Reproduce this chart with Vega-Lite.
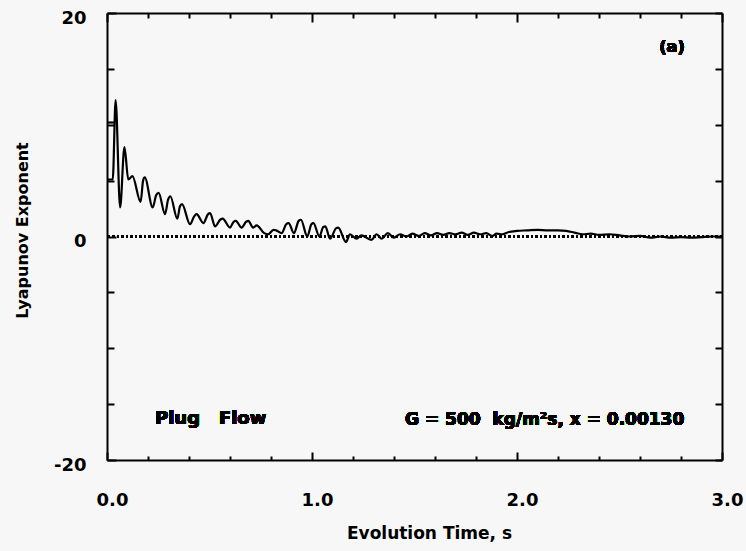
{
  "$schema": "https://vega.github.io/schema/vega-lite/v6.json",
  "width": 615,
  "height": 447,
  "autosize": {"type": "none"},
  "padding": {"left": 107, "top": 13, "right": 24, "bottom": 91},
  "background": "#f7f7f7",
  "config": {
    "view": {"stroke": null},
    "font": "DejaVu Sans",
    "axis": {"grid": false, "domainColor": "black", "domainWidth": 2, "tickColor": "black", "tickWidth": 2, "labelColor": "black", "titleColor": "black", "labelFont": "DejaVu Sans", "titleFont": "DejaVu Sans", "labelFontWeight": "bold", "titleFontWeight": "bold", "labelOverlap": false, "labelFlush": false}
  },
  "data": {
    "values": [
      {"t": 0, "v": 10.2, "seg": "a"},
      {"t": 0.034, "v": 10.2, "seg": "a"},
      {"t": 0, "v": 5.1, "seg": "b"},
      {"t": 0.028, "v": 5.1, "seg": "b"},
      {"t": 0.042, "v": 12.2, "seg": "b"},
      {"t": 0.064, "v": 2.6, "seg": "b"},
      {"t": 0.085, "v": 8.0, "seg": "b"},
      {"t": 0.104, "v": 5.1, "seg": "b"},
      {"t": 0.124, "v": 5.4, "seg": "b"},
      {"t": 0.164, "v": 3.1, "seg": "b"},
      {"t": 0.176, "v": 5.0, "seg": "b"},
      {"t": 0.184, "v": 5.3, "seg": "b"},
      {"t": 0.223, "v": 2.6, "seg": "b"},
      {"t": 0.24, "v": 3.7, "seg": "b"},
      {"t": 0.252, "v": 3.9, "seg": "b"},
      {"t": 0.283, "v": 2.0, "seg": "b"},
      {"t": 0.298, "v": 3.3, "seg": "b"},
      {"t": 0.309, "v": 3.6, "seg": "b"},
      {"t": 0.343, "v": 1.6, "seg": "b"},
      {"t": 0.356, "v": 2.7, "seg": "b"},
      {"t": 0.366, "v": 2.9, "seg": "b"},
      {"t": 0.405, "v": 1.1, "seg": "b"},
      {"t": 0.425, "v": 1.8, "seg": "b"},
      {"t": 0.437, "v": 2.0, "seg": "b"},
      {"t": 0.47, "v": 1.2, "seg": "b"},
      {"t": 0.493, "v": 2.0, "seg": "b"},
      {"t": 0.503, "v": 2.1, "seg": "b"},
      {"t": 0.527, "v": 0.9, "seg": "b"},
      {"t": 0.552, "v": 1.5, "seg": "b"},
      {"t": 0.564, "v": 1.6, "seg": "b"},
      {"t": 0.6, "v": 0.8, "seg": "b"},
      {"t": 0.617, "v": 1.3, "seg": "b"},
      {"t": 0.628, "v": 1.4, "seg": "b"},
      {"t": 0.657, "v": 0.8, "seg": "b"},
      {"t": 0.678, "v": 1.3, "seg": "b"},
      {"t": 0.689, "v": 1.4, "seg": "b"},
      {"t": 0.713, "v": 0.8, "seg": "b"},
      {"t": 0.73, "v": 1.0, "seg": "b"},
      {"t": 0.767, "v": 0.3, "seg": "b"},
      {"t": 0.787, "v": 0.2, "seg": "b"},
      {"t": 0.812, "v": 0.6, "seg": "b"},
      {"t": 0.825, "v": 0.55, "seg": "b"},
      {"t": 0.852, "v": 0.3, "seg": "b"},
      {"t": 0.874, "v": 1.1, "seg": "b"},
      {"t": 0.886, "v": 1.2, "seg": "b"},
      {"t": 0.912, "v": 0.3, "seg": "b"},
      {"t": 0.935, "v": 1.4, "seg": "b"},
      {"t": 0.946, "v": 1.5, "seg": "b"},
      {"t": 0.977, "v": 0.0, "seg": "b"},
      {"t": 0.997, "v": 1.1, "seg": "b"},
      {"t": 1.007, "v": 1.2, "seg": "b"},
      {"t": 1.036, "v": 0.0, "seg": "b"},
      {"t": 1.055, "v": 0.85, "seg": "b"},
      {"t": 1.065, "v": 0.9, "seg": "b"},
      {"t": 1.088, "v": -0.2, "seg": "b"},
      {"t": 1.118, "v": 0.75, "seg": "b"},
      {"t": 1.128, "v": 0.8, "seg": "b"},
      {"t": 1.166, "v": -0.5, "seg": "b"},
      {"t": 1.185, "v": 0.2, "seg": "b"},
      {"t": 1.218, "v": -0.2, "seg": "b"},
      {"t": 1.24, "v": 0.1, "seg": "b"},
      {"t": 1.29, "v": -0.3, "seg": "b"},
      {"t": 1.315, "v": 0.2, "seg": "b"},
      {"t": 1.34, "v": -0.2, "seg": "b"},
      {"t": 1.37, "v": 0.3, "seg": "b"},
      {"t": 1.4, "v": -0.1, "seg": "b"},
      {"t": 1.43, "v": 0.2, "seg": "b"},
      {"t": 1.46, "v": 0.0, "seg": "b"},
      {"t": 1.49, "v": 0.25, "seg": "b"},
      {"t": 1.52, "v": 0.05, "seg": "b"},
      {"t": 1.55, "v": 0.3, "seg": "b"},
      {"t": 1.58, "v": 0.1, "seg": "b"},
      {"t": 1.61, "v": 0.3, "seg": "b"},
      {"t": 1.64, "v": 0.15, "seg": "b"},
      {"t": 1.67, "v": 0.3, "seg": "b"},
      {"t": 1.7, "v": 0.2, "seg": "b"},
      {"t": 1.73, "v": 0.35, "seg": "b"},
      {"t": 1.76, "v": 0.15, "seg": "b"},
      {"t": 1.79, "v": 0.35, "seg": "b"},
      {"t": 1.82, "v": 0.2, "seg": "b"},
      {"t": 1.85, "v": 0.3, "seg": "b"},
      {"t": 1.88, "v": 0.05, "seg": "b"},
      {"t": 1.9, "v": 0.25, "seg": "b"},
      {"t": 1.93, "v": 0.2, "seg": "b"},
      {"t": 1.96, "v": 0.4, "seg": "b"},
      {"t": 2.0, "v": 0.5, "seg": "b"},
      {"t": 2.05, "v": 0.55, "seg": "b"},
      {"t": 2.1, "v": 0.6, "seg": "b"},
      {"t": 2.15, "v": 0.55, "seg": "b"},
      {"t": 2.2, "v": 0.55, "seg": "b"},
      {"t": 2.24, "v": 0.5, "seg": "b"},
      {"t": 2.28, "v": 0.35, "seg": "b"},
      {"t": 2.32, "v": 0.2, "seg": "b"},
      {"t": 2.36, "v": 0.25, "seg": "b"},
      {"t": 2.4, "v": 0.15, "seg": "b"},
      {"t": 2.45, "v": 0.2, "seg": "b"},
      {"t": 2.5, "v": 0.1, "seg": "b"},
      {"t": 2.55, "v": 0.0, "seg": "b"},
      {"t": 2.6, "v": 0.05, "seg": "b"},
      {"t": 2.65, "v": -0.1, "seg": "b"},
      {"t": 2.7, "v": 0.0, "seg": "b"},
      {"t": 2.75, "v": -0.1, "seg": "b"},
      {"t": 2.8, "v": -0.05, "seg": "b"},
      {"t": 2.85, "v": -0.1, "seg": "b"},
      {"t": 2.9, "v": -0.05, "seg": "b"},
      {"t": 2.95, "v": 0.0, "seg": "b"},
      {"t": 3.0, "v": 0.0, "seg": "b"}
    ]
  },
  "resolve": {"axis": {"x": "independent", "y": "independent"}},
  "layer": [
    {
      "mark": {"type": "rule", "strokeDash": [2, 2.5], "strokeWidth": 1.6, "color": "black"},
      "encoding": {
        "y": {"datum": 0, "type": "quantitative", "scale": {"domain": [-20, 20], "nice": false}, "axis": null}
      }
    },
    {
      "mark": {"type": "line", "color": "black", "strokeWidth": 2.2, "strokeJoin": "round", "interpolate": "monotone"},
      "encoding": {
        "x": {
          "field": "t", "type": "quantitative",
          "scale": {"domain": [0, 3], "nice": false, "zero": false},
          "axis": {
            "orient": "bottom",
            "values": [0, 0.2, 0.4, 0.6, 0.8, 1, 1.2, 1.4, 1.6, 1.8, 2, 2.2, 2.4, 2.6, 2.8, 3],
            "labelExpr": "datum.value % 1 === 0 ? format(datum.value, '.1f') : ''",
            "tickSize": {"condition": {"test": "datum.value % 1 === 0", "value": -8}, "value": -4},
            "labelFontSize": 18,
            "labelPadding": 39,
            "labelOffset": 5,
            "title": "Evolution Time, s",
            "titleFontSize": 17,
            "titleX": 322,
            "titleY": 78,
            "titleBaseline": "alphabetic",
            "titleAnchor": "middle"
          }
        },
        "y": {
          "field": "v", "type": "quantitative",
          "scale": {"domain": [-20, 20], "nice": false},
          "axis": {
            "orient": "left",
            "values": [-20, -15, -10, -5, 0, 5, 10, 15, 20],
            "labelExpr": "datum.value % 20 === 0 ? '' + datum.value : ''",
            "tickSize": {"condition": {"test": "datum.value % 20 === 0", "value": -9}, "value": -7},
            "labelFontSize": 18,
            "labelPadding": 30,
            "labelOffset": 5,
            "title": "Lyapunov Exponent",
            "titleFontSize": 16,
            "titleX": -85,
            "titleY": 217,
            "titleBaseline": "middle",
            "titleAnchor": "middle"
          }
        },
        "detail": {"field": "seg"}
      }
    },
    {
      "mark": {"type": "text", "fontSize": 16, "fontWeight": "bold", "font": "DejaVu Sans", "align": "center", "baseline": "middle", "color": "black"},
      "encoding": {
        "text": {"value": "(a)"},
        "x": {
          "datum": 2.756, "type": "quantitative",
          "axis": {
            "orient": "top",
            "values": [0, 0.2, 0.4, 0.6, 0.8, 1, 1.2, 1.4, 1.6, 1.8, 2, 2.2, 2.4, 2.6, 2.8, 3],
            "labels": false,
            "tickSize": {"condition": {"test": "datum.value % 1 === 0", "value": -9}, "value": -5},
            "title": null
          }
        },
        "y": {
          "datum": 17.0, "type": "quantitative",
          "axis": {
            "orient": "right",
            "values": [-20, -15, -10, -5, 0, 5, 10, 15, 20],
            "labels": false,
            "tickSize": -7,
            "title": null
          }
        }
      }
    },
    {
      "mark": {"type": "text", "fontSize": 18, "fontWeight": "bold", "font": "DejaVu Sans", "align": "left", "baseline": "middle", "color": "black"},
      "encoding": {
        "text": {"value": "Plug\u00a0\u00a0\u00a0Flow"},
        "x": {"datum": 0.234, "type": "quantitative", "axis": null},
        "y": {"datum": -16.3, "type": "quantitative", "axis": null}
      }
    },
    {
      "mark": {"type": "text", "fontSize": 17, "fontWeight": "bold", "font": "DejaVu Sans", "align": "left", "baseline": "middle", "color": "black"},
      "encoding": {
        "text": {"value": "G\u00a0=\u00a0500\u00a0\u00a0kg/m²s,\u00a0x\u00a0=\u00a00.00130"},
        "x": {"datum": 1.454, "type": "quantitative", "axis": null},
        "y": {"datum": -16.4, "type": "quantitative", "axis": null}
      }
    }
  ]
}
